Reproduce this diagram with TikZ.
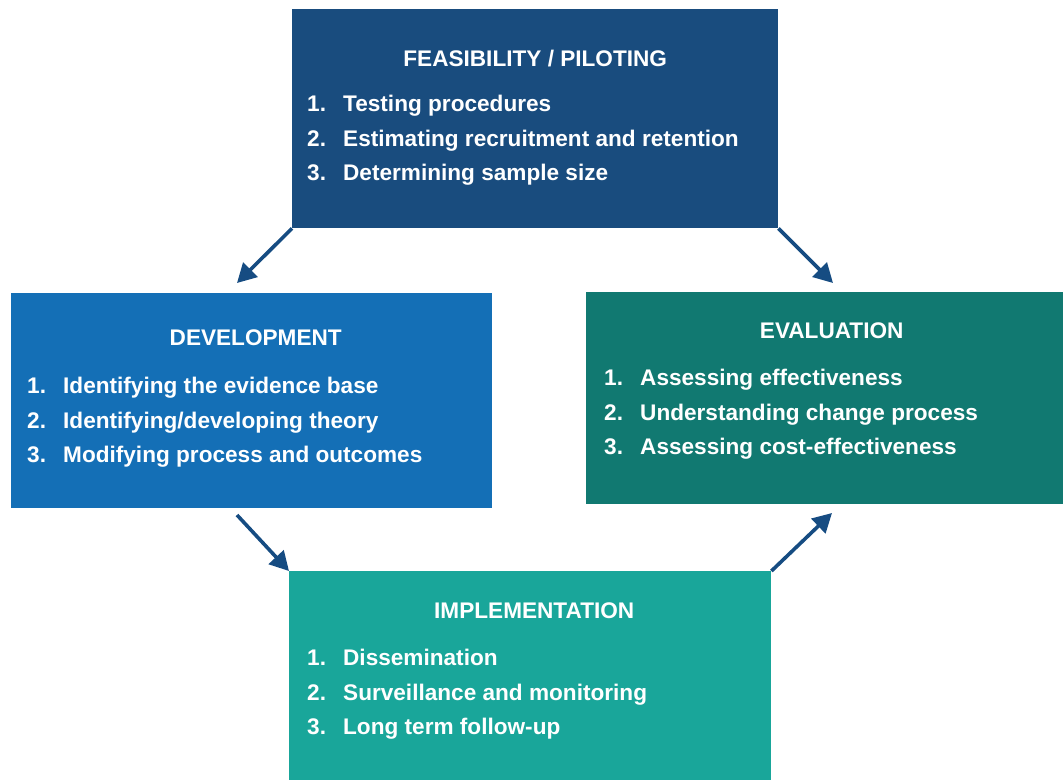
\documentclass[tikz,border=0pt]{standalone}
\usepackage{fontspec}
\setmainfont{Liberation Sans}
\usetikzlibrary{arrows.meta}
\definecolor{feasnavy}{RGB}{25,76,126}
\definecolor{devblue}{RGB}{20,111,182}
\definecolor{evalteal}{RGB}{17,121,113}
\definecolor{implteal}{RGB}{25,166,154}
\definecolor{arrownavy}{RGB}{22,76,130}

\tikzset{
  stage/.style={draw=none, inner sep=0pt, anchor=north west},
  stagetitle/.style={text=white, inner sep=0pt, anchor=north, font=\fontsize{22.6}{26}\selectfont\bfseries},
  stagelist/.style={text=white, inner sep=0pt, anchor=north west, align=left, font=\fontsize{22.6}{34.5}\selectfont\bfseries},
  flow/.style={draw=arrownavy, line width=3.6pt, -{Triangle[length=19pt,width=20pt]}}
}
\newcommand{\itemnum}[1]{\makebox[36pt][l]{#1}}

\begin{document}
\begin{tikzpicture}[x=1pt, y=-1pt]
\useasboundingbox (0,0) rectangle (1063,780);

% Four stage boxes
\node[stage, fill=feasnavy, minimum width=486pt, minimum height=219pt] (feas) at (292,9) {};
\node[stage, fill=devblue, minimum width=481pt, minimum height=215pt] (dev) at (11,293) {};
\node[stage, fill=evalteal, minimum width=477pt, minimum height=212pt] (eval) at (586,292) {};
\node[stage, fill=implteal, minimum width=482pt, minimum height=209pt] (impl) at (289,571) {};

% Titles
\node[stagetitle] (feas title) at ([yshift=-41pt]feas.north) {FEASIBILITY / PILOTING};
\node[stagetitle] (dev title) at ([yshift=-37pt,xshift=4pt]dev.north) {DEVELOPMENT};
\node[stagetitle] (eval title) at ([yshift=-31pt,xshift=7pt]eval.north) {EVALUATION};
\node[stagetitle] (impl title) at ([yshift=-32pt,xshift=4pt]impl.north) {IMPLEMENTATION};

% Item lists
\node[stagelist] (feas list) at ([xshift=15pt,yshift=-86pt]feas.north west) {
\itemnum{1.}Testing procedures\\
\itemnum{2.}Estimating recruitment and retention\\
\itemnum{3.}Determining sample size
};
\node[stagelist] (dev list) at ([xshift=16pt,yshift=-84pt]dev.north west) {
\itemnum{1.}Identifying the evidence base\\
\itemnum{2.}Identifying/developing theory\\
\itemnum{3.}Modifying process and outcomes
};
\node[stagelist] (eval list) at ([xshift=18pt,yshift=-77pt]eval.north west) {
\itemnum{1.}Assessing effectiveness\\
\itemnum{2.}Understanding change process\\
\itemnum{3.}Assessing cost-effectiveness
};
\node[stagelist] (impl list) at ([xshift=18pt,yshift=-78pt]impl.north west) {
\itemnum{1.}Dissemination\\
\itemnum{2.}Surveillance and monitoring\\
\itemnum{3.}Long term follow-up
};

% Arrows of the cycle
\coordinate (to dev) at (237,283);
\coordinate (to eval) at (833,283);
\coordinate (from dev) at (237,515);
\coordinate (back eval) at (832,513);
\draw[flow] (feas.south west) -- (to dev);
\draw[flow] (feas.south east) -- (to eval);
\draw[flow] (from dev) -- (impl.north west);
\draw[flow] (impl.north east) -- (back eval);
\end{tikzpicture}
\end{document}
